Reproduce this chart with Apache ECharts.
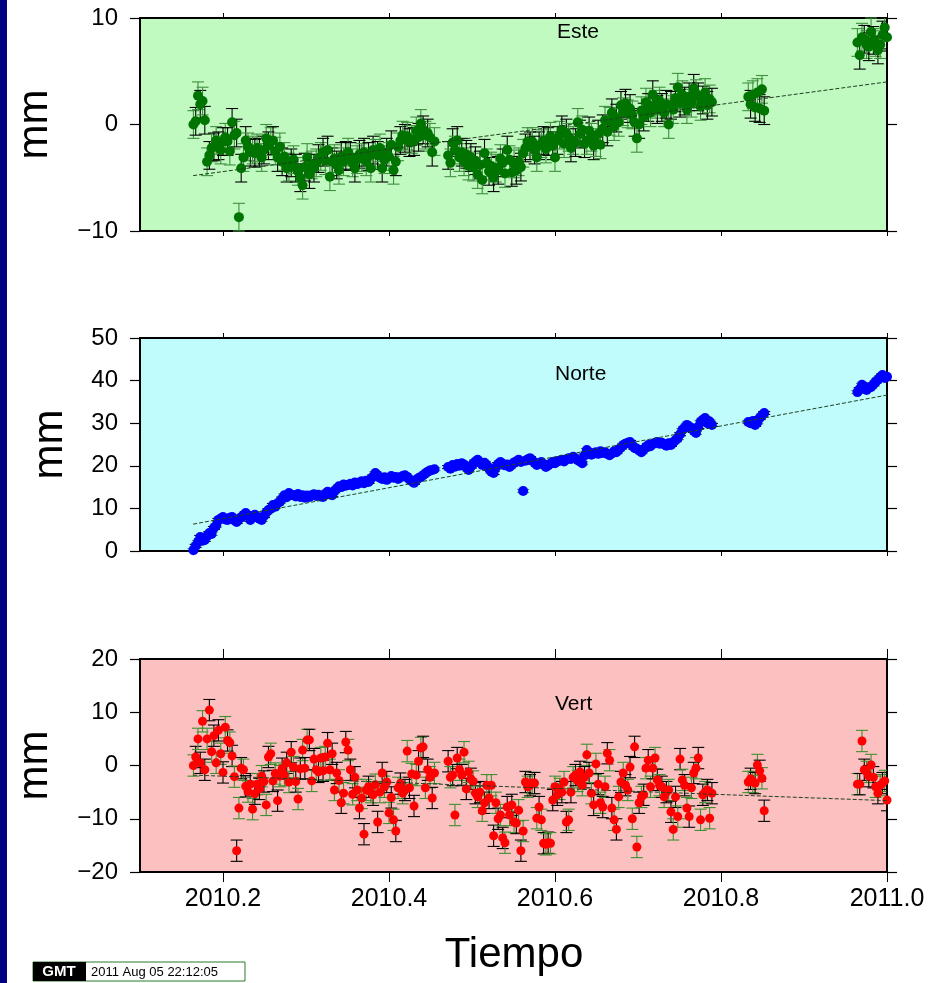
<!DOCTYPE html>
<html><head><meta charset="utf-8">
<script src="https://cdn.jsdelivr.net/npm/echarts@6/dist/echarts.min.js"></script>
<style>html,body{margin:0;padding:0;background:#fff;overflow:hidden}#chart{width:933px;height:983px}</style>
</head><body><div id="chart"></div>
<script>
// ---- sampling calendar: daily GPS solutions, day-of-year 2010 ----
const segments = [[60, 166], [172, 288], [304, 311], [352, 365]];
const yearStart = 2010;
const daysPerYear = 365;

// ---- component values (mm), concatenated in segment order ----
const esteValues = [
  // days 60-166
  0.0, 0.3, 2.7, 1.9, 2.2, 0.4, -3.5, -2.9, -2.2, -2.1,
  -1.5, -2.0, -2.4, -1.6, -1.2, -1.6, -2.5, 0.2, -1.0, -0.8,
  -8.7, -4.1, -3.1, -1.5, -2.1, -2.6, -2.4, -2.7, -2.2, -2.6,
  -3.1, -2.4, -1.3, -2.0, -1.6, -1.5, -2.5, -3.1, -2.1, -3.5,
  -3.0, -4.1, -4.0, -3.6, -3.3, -4.1, -4.4, -5.0, -5.7, -4.0,
  -3.1, -4.7, -3.8, -4.1, -3.6, -3.2, -3.0, -2.6, -3.4, -2.4,
  -4.9, -3.5, -3.2, -3.8, -4.3, -3.0, -3.5, -2.9, -2.6, -3.0,
  -3.6, -4.1, -3.3, -2.8, -3.1, -2.6, -3.5, -3.0, -4.1, -2.4,
  -2.7, -2.9, -2.2, -4.1, -3.3, -2.6, -3.0, -1.9, -4.3, -3.5,
  -2.1, -1.5, -1.0, -1.3, -1.1, -1.7, -1.4, -1.6, -0.6, -1.2,
  0.1, -0.5, -1.0, -0.8, -1.2, -2.6, -1.6,
  // days 172-288
  -2.9, -3.6, -1.7, -2.4, -1.5, -3.1, -2.6, -3.5, -2.8, -3.9,
  -3.1, -4.0, -3.4, -4.7, -3.8, -5.2, -2.7, -3.6, -4.4, -3.9,
  -5.0, -4.1, -4.3, -3.2, -3.6, -4.6, -2.4, -3.3, -4.5, -3.7,
  -4.3, -3.5, -4.0, -2.7, -2.2, -1.6, -2.0, -1.6, -2.4, -3.1,
  -2.0, -1.8, -1.5, -2.3, -1.6, -1.1, -2.0, -3.1, -1.5, -1.0,
  -0.5, -1.8, -0.8, -1.2, -2.2, -1.5, -1.7, 0.2, -0.9, -0.5,
  -1.8, -1.5, -0.6, -1.2, -2.0, -1.7, -0.9, -1.9, -0.4, 0.4,
  -0.7, 0.3, 1.1, -0.2, 0.6, 0.2, 1.8, 1.2, 2.0, 1.0,
  1.5, 0.9, 0.2, -1.3, 0.0, 1.3, 0.7, 2.1, 1.6, 1.1,
  2.8, 1.9, 1.4, 2.2, 1.6, 1.1, 1.9, 0.0, 1.8, 1.4,
  2.5, 3.5, 2.0, 2.8, 2.2, 1.4, 2.6, 2.0, 3.4, 2.9,
  2.6, 1.7, 2.3, 3.0, 1.8, 2.4, 2.1,
  // days 304-311
  2.6, 1.9, 2.8, 1.6, 3.0, 1.5, 3.3, 1.3,
  // days 352-365
  7.7, 6.5, 8.2, 8.0, 7.5, 7.3, 8.7, 7.9, 7.7, 7.0, 7.5, 8.4, 9.1, 8.2
];

const norteValues = [
  // days 60-166
  0.2, 1.2, 2.1, 3.3, 2.4, 2.6, 3.5, 4.2, 4.0, 5.4,
  6.0, 7.3, 7.6, 8.0, 7.4, 7.3, 7.8, 8.0, 7.2, 6.8,
  7.5, 7.9, 8.4, 8.9, 8.2, 7.3, 7.8, 8.5, 8.0, 7.6,
  7.3, 8.2, 9.0, 9.6, 9.9, 10.8, 10.4, 11.2, 11.5, 12.3,
  13.1, 12.6, 13.6, 13.2, 13.1, 12.8, 13.4, 12.7, 13.1, 12.5,
  13.0, 12.7, 13.1, 13.3, 12.9, 13.2, 12.8, 12.7, 13.4, 13.9,
  13.5, 13.1, 14.0, 14.6, 15.2, 15.0, 15.6, 15.3, 15.5, 15.8,
  15.4, 16.1, 15.7, 16.0, 16.4, 15.9, 16.5, 16.2, 16.9, 17.5,
  18.3, 17.8, 17.2, 16.9, 17.3, 16.7, 17.1, 17.6, 17.2, 17.4,
  16.9, 17.3, 17.6, 17.8, 17.4, 16.8, 16.4, 16.0, 16.7, 17.1,
  17.4, 17.8, 18.2, 18.6, 18.9, 19.0, 19.2,
  // days 172-288
  19.7, 19.3, 20.2, 19.8, 20.4, 20.0, 20.6, 20.3, 19.6, 19.0,
  19.8, 20.5, 21.0, 21.4, 20.8, 20.2, 20.7, 20.1, 19.3, 18.6,
  18.3, 19.6, 20.4, 20.9, 20.5, 20.1, 20.3, 19.7, 20.2, 20.8,
  21.0, 21.4, 20.9, 14.1, 21.2, 21.5, 21.8, 21.3, 20.7, 20.2,
  20.6, 20.9, 20.3, 19.7, 20.1, 20.5, 20.9, 20.6, 21.0, 21.2,
  21.4, 21.0, 21.5, 21.8, 21.6, 22.1, 21.7, 21.3, 21.0, 20.6,
  22.4, 23.7, 23.2, 22.6, 22.9, 23.2, 22.8, 23.4, 23.0, 23.2,
  22.8, 22.5, 22.9, 23.4, 23.2, 23.8, 24.3, 24.9, 25.2, 25.4,
  25.6, 24.8, 24.2, 24.0, 23.6, 23.2, 23.8, 24.4, 24.9, 24.6,
  25.1, 25.4, 25.6, 25.2, 25.4, 25.0, 24.7, 25.3, 24.9, 25.5,
  26.0, 26.5, 27.4, 28.4, 28.9, 29.6, 29.2, 28.9, 28.2, 27.7,
  29.1, 30.3, 30.8, 31.2, 30.0, 30.4, 29.6,
  // days 304-311
  30.3, 30.0, 30.5, 29.6, 30.2, 31.2, 31.8, 32.4,
  // days 352-365
  37.3, 38.0, 39.0, 38.6, 37.8, 38.3, 38.5, 39.1, 39.7, 40.2, 40.8, 41.3, 40.6, 40.9
];

const vertValues = [
  // days 60-166
  0.0, 1.6, 5.0, 0.5, 8.3, -0.8, 5.0, 10.4, 2.6, 5.6,
  0.5, 6.6, 2.2, -1.3, 7.2, 4.7, 4.3, 1.8, -2.1, -16.0,
  -8.0, -0.5, -0.8, -3.9, -4.9, -3.5, -8.2, -5.3, -3.5, -4.4,
  -2.0, -3.0, -7.4, 1.6, 2.2, -2.9, -1.5, -6.6, -2.0, -0.6,
  -1.8, 0.5, -3.1, 2.5, -0.3, -3.0, -6.3, -0.6, 2.9, -0.5,
  4.8, 4.8, -2.9, 1.2, -0.8, -1.2, 1.4, -1.0, 1.6, 4.2,
  -0.8, 2.2, -4.6, -1.4, -2.8, -7.0, -5.2, 4.4, 2.9, -0.8,
  -5.4, -2.2, -4.6, -8.0, -6.1, -12.9, -4.6, -4.0, -5.0, -5.5,
  -3.6, -10.6, -5.0, -1.4, -4.0, -3.1, -8.9, -6.0, -10.2, -12.3,
  -4.2, -3.4, -5.2, -4.6, 2.7, -4.2, -1.6, -7.6, -1.8, 0.8,
  3.3, 3.5, -4.2, -0.8, -2.2, -6.1, -1.4,
  // days 172-288
  0.8, -2.2, -1.8, -9.3, 1.4, -0.8, -1.8, 2.5, -4.4, -1.2,
  -2.5, -3.0, -5.2, -5.9, -5.0, -8.5, -7.0, -3.7, -6.1, -3.7,
  -13.2, -7.0, -10.0, -9.3, -13.6, -14.5, -7.8, -9.3, -7.4, -10.6,
  -10.8, -8.4, -16.0, -12.3, -3.1, -4.0, -3.7, -3.3, -3.3, -9.9,
  -7.8, -10.2, -14.6, -14.8, -14.5, -14.6, -6.5, -4.0, -5.5, -4.4,
  -5.0, -3.1, -10.6, -10.2, -5.0, -2.2, -1.8, -2.9, -1.2, -3.7,
  -2.2, 2.0, -1.4, -5.2, -7.4, 0.3, -3.5, -7.0, -7.8, -4.0,
  2.3, 1.0, -8.0, -10.2, -12.0, -5.9, -3.1, -1.4, -3.7, -4.6,
  -0.3, -10.0, 3.5, -15.3, -7.0, -5.9, -5.5, -0.5, 1.0, -4.0,
  -0.5, 1.4, -2.7, -3.7, -4.0, -5.9, -5.0, -4.6, -8.7, -12.0,
  -5.9, -9.6, 1.2, -2.7, -3.7, -8.0, -9.6, -4.2, -1.4, -0.5,
  1.4, -10.2, -5.5, -5.0, -4.6, -9.9, -5.2,
  // days 304-311
  -3.1, -2.5, -3.1, -3.3, 0.1, -1.0, -2.4, -8.5,
  // days 352-365
  -3.5, -3.5, 4.6, -0.8, -1.2, -2.0, 0.1, -2.2, -4.0, -5.2, -3.7, -3.3, -2.9, -6.5
];

// formal 1-sigma errors (mm)
const esteSigma = 1.3;
const norteSigma = 0.35;
const vertSigma = 2.0;

// linear trend end points
const trendEpochs = [2010.164, 2011.0];
const esteTrend = [-4.8, 4.0];
const norteTrend = [6.3, 36.6];
const vertTrend = [-1.8, -6.6];

// axes
const xMin = 2010.1, xMax = 2011.0;
const xTickValues = [2010.2, 2010.4, 2010.6, 2010.8, 2011.0];
const esteRange = [-10, 10];
const norteRange = [0, 50];
const vertRange = [-20, 20];
const yStep = 10;
const panelTitles = ['Este', 'Norte', 'Vert'];
const yAxisTitle = 'mm';
const xAxisTitle = 'Tiempo';
const stampText = '2011 Aug 05 22:12:05';

// ---- build ----
const epochs = [];
segments.forEach(([a, b]) => { for (let d = a; d <= b; d++) epochs.push(yearStart + d / daysPerYear); });

const FONT = '"Liberation Sans", Arial, Helvetica, sans-serif';

function pts(vals, sigma) {
  const n = Math.min(vals.length, epochs.length);
  const out = [];
  for (let i = 0; i < n; i++) out.push([epochs[i], vals[i], sigma]);
  return out;
}

const panels = [
  { vals: esteValues, sigma: esteSigma, trend: esteTrend, range: esteRange, bg: '#c0fac0', mk: '#007400', size: 10, eb: '#3f8f3f',
    top: 18, title: [557, 32], mmX: 35, xTickLen: 5 },
  { vals: norteValues, sigma: norteSigma, trend: norteTrend, range: norteRange, bg: '#c0fcfc', mk: '#0000ff', size: 10, eb: '#3f9f3f',
    top: 338, title: [555, 374], mmX: 50, xTickLen: 5 },
  { vals: vertValues, sigma: vertSigma, trend: vertTrend, range: vertRange, bg: '#fcc0c0', mk: '#ff0000', size: 9, eb: '#3f8f2f',
    top: 659, title: [555, 704], mmX: 35, xTickLen: 10 }
];
const gridLeft = 140, gridWidth = 747, gridHeight = 213;

function errRender(altColor) {
  return function (params, api) {
    const x = api.value(0), y = api.value(1), e = api.value(2);
    const p0 = api.coord([x, y + e]);
    const p1 = api.coord([x, y - e]);
    const cs = params.coordSys;
    const yT = cs.y, yB = cs.y + cs.height, xR = cs.x + cs.width;
    const top = Math.max(yT, Math.min(yB, p0[1]));
    const bot = Math.max(yT, Math.min(yB, p1[1]));
    const cx = p0[0];
    const w = 6;
    const color = params.dataIndex % 2 ? '#000000' : altColor;
    const st = { stroke: color, lineWidth: 1.1 };
    const ch = [{ type: 'line', shape: { x1: cx, y1: top, x2: cx, y2: bot }, style: st }];
    const xl = cx - w, xr = Math.min(xR, cx + w);
    if (p0[1] >= yT) ch.push({ type: 'line', shape: { x1: xl, y1: p0[1], x2: xr, y2: p0[1] }, style: st });
    if (p1[1] <= yB) ch.push({ type: 'line', shape: { x1: xl, y1: p1[1], x2: xr, y2: p1[1] }, style: st });
    return { type: 'group', children: ch };
  };
}

const grids = [], xAxes = [], yAxes = [], series = [], graphics = [];
const minus = v => String(v).replace('-', '\u2212');

panels.forEach((p, i) => {
  grids.push({ left: gridLeft, top: p.top, width: gridWidth, height: gridHeight, show: true,
    backgroundColor: p.bg, borderColor: '#000', borderWidth: 2, containLabel: false });
  const xBase = { type: 'value', gridIndex: i, min: xMin, max: xMax,
    axisLine: { show: false, onZero: false }, splitLine: { show: false },
    axisTick: { show: true, inside: false, length: p.xTickLen, customValues: xTickValues, lineStyle: { color: '#000', width: 1 } } };
  xAxes.push(Object.assign({}, xBase, { position: 'bottom',
    axisLabel: { show: i === 2, customValues: xTickValues, formatter: v => Number(v).toFixed(1), fontSize: 25, fontFamily: FONT, color: '#000', margin: 15 } }));
  xAxes.push(Object.assign({}, xBase, { position: 'top', axisLabel: { show: false } }));
  const yBase = { type: 'value', gridIndex: i, min: p.range[0], max: p.range[1], interval: yStep,
    axisLine: { show: false, onZero: false }, splitLine: { show: false },
    axisTick: { show: true, inside: false, length: 10, lineStyle: { color: '#000', width: 1.2 } } };
  yAxes.push(Object.assign({}, yBase, { position: 'left',
    axisLabel: { show: true, formatter: minus, fontSize: 24, fontFamily: FONT, color: '#000', margin: 22 } }));
  yAxes.push(Object.assign({}, yBase, { position: 'right', axisLabel: { show: false } }));

  const data = pts(p.vals, p.sigma);
  series.push({ type: 'custom', xAxisIndex: 2 * i, yAxisIndex: 2 * i, data: data, encode: { x: 0, y: 1 },
    renderItem: errRender(p.eb), z: 3, silent: true });
  series.push({ type: 'scatter', xAxisIndex: 2 * i, yAxisIndex: 2 * i, data: data.map(d => [d[0], d[1]]),
    symbol: 'circle', symbolSize: p.size, itemStyle: { color: p.mk, opacity: 1 }, z: 4, silent: true });
  series.push({ type: 'line', xAxisIndex: 2 * i, yAxisIndex: 2 * i,
    data: [[trendEpochs[0], p.trend[0]], [trendEpochs[1], p.trend[1]]],
    symbol: 'none', lineStyle: { color: '#204020', width: 1, type: [4, 2] }, z: 5, silent: true });

  graphics.push({ type: 'text', x: p.title[0], y: p.title[1], z: 10,
    style: { text: panelTitles[i], font: '21px ' + FONT, fill: '#000', align: 'left', verticalAlign: 'middle' } });
  graphics.push({ type: 'text', x: p.mmX, y: p.top + gridHeight / 2, rotation: Math.PI / 2, z: 10,
    style: { text: yAxisTitle, font: '42px ' + FONT, fill: '#000', align: 'center', verticalAlign: 'middle' } });
});

// left navy band
graphics.push({ type: 'rect', shape: { x: 0, y: 0, width: 7, height: 983 }, style: { fill: '#000080' }, z: 1 });
// x title
graphics.push({ type: 'text', x: 514, y: 955, z: 10,
  style: { text: xAxisTitle, font: '42px ' + FONT, fill: '#000', align: 'center', verticalAlign: 'middle' } });
// GMT time stamp
graphics.push({ type: 'rect', shape: { x: 33, y: 962, width: 212, height: 19 }, style: { fill: '#fff', stroke: '#2a7a2a', lineWidth: 1 }, z: 10 });
graphics.push({ type: 'rect', shape: { x: 33, y: 962, width: 53, height: 19 }, style: { fill: '#000' }, z: 11 });
graphics.push({ type: 'text', x: 59, y: 972, z: 12,
  style: { text: 'GMT', font: 'bold 15px ' + FONT, fill: '#fff', align: 'center', verticalAlign: 'middle' } });
graphics.push({ type: 'text', x: 91, y: 972, z: 12,
  style: { text: stampText, font: '13px ' + FONT, fill: '#000', align: 'left', verticalAlign: 'middle' } });

const chart = echarts.init(document.getElementById('chart'), null, { renderer: 'canvas' });
chart.setOption({
  animation: false,
  backgroundColor: '#ffffff',
  grid: grids,
  xAxis: xAxes,
  yAxis: yAxes,
  series: series,
  graphic: graphics
});
</script>
</body></html>
